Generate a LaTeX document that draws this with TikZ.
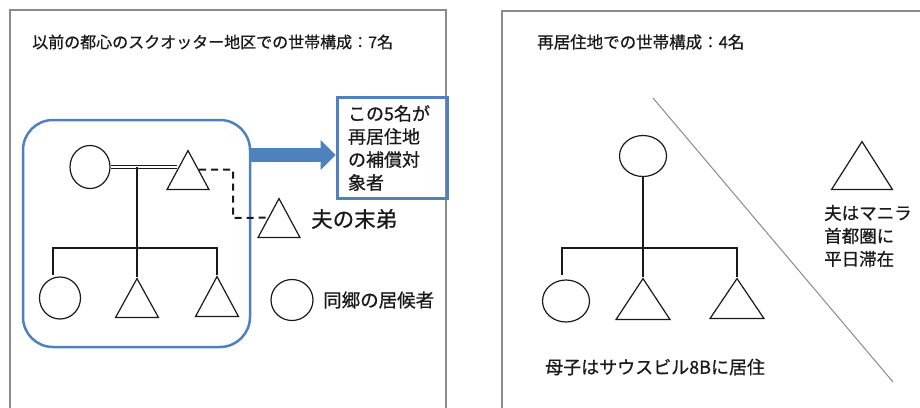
\documentclass[tikz,border=0pt]{standalone}
\usepackage{fontspec}
\setmainfont{Noto Sans CJK JP}[FakeBold=0.7]
\usetikzlibrary{shapes.geometric,arrows.meta,calc}
\definecolor{ablue}{HTML}{4F81BD}
\definecolor{pgray}{HTML}{8A8A8A}
\definecolor{ink}{HTML}{1A1A1A}
\begin{document}
\begin{tikzpicture}[x=1pt,y=-1pt,
  person/.style={ellipse,draw=ink,line width=1.2pt,inner sep=0pt},
  tri/.style={isosceles triangle,isosceles triangle stretches,shape border rotate=90,draw=ink,line width=1.2pt,inner sep=0pt,anchor=apex},
  kin/.style={draw=ink,line width=2.9pt},
  dashlink/.style={draw=ink,line width=2pt,dash pattern=on 7pt off 5pt},
  lbl/.style={inner sep=0pt,anchor=west,text=ink},
  frame/.style={draw=pgray,line width=1.2pt}]
\useasboundingbox (0,0) rectangle (920,407);
\clip (0,0) rectangle (920,407);
\fill[white] (0,0) rectangle (920,407);
% panels
\draw[frame] (10,430) -- (10,10) -- (446,10) -- (446,430);
\draw[frame] (502,430) -- (502,11) -- (940,11);
% titles
\node[lbl,font=\fontsize{16}{16}\selectfont] (title1) at (32,42) {以前の都心のスクオッター地区での世帯構成：7名};
\node[lbl,font=\fontsize{16.5}{16.5}\selectfont] (title2) at (537,42) {再居住地での世帯構成：4名};
% left group box
\node[draw=ablue,line width=2.5pt,rounded corners=30pt,minimum width=227pt,minimum height=227pt] (grp) at (136.5,233.5) {};
% left persons
\node[person,minimum width=40pt,minimum height=43pt] (w1) at (90,167) {};
\node[tri,minimum width=42pt,minimum height=39pt] (h1) at (188,149) {};
\node[person,minimum width=41pt,minimum height=42pt] (c1) at (60,298) {};
\node[tri,minimum width=43pt,minimum height=39pt] (c2) at (137,277) {};
\node[tri,minimum width=43pt,minimum height=40pt] (c3) at (217,275) {};
\node[tri,minimum width=42pt,minimum height=39pt] (u1) at (279,197) {};
\node[person,minimum width=42pt,minimum height=41pt] (g1) at (292,300) {};
% left links
\draw[draw=ink,double,double distance=1.6pt,line width=1.3pt] (w1.east) -- (w1.east -| h1.left side);
\coordinate (m1) at (137,167);
\coordinate (bar1) at (137,248);
\coordinate (l1) at (53,275);
\draw[kin] (m1) -- (c2.apex);
\draw[kin] (l1) -- (l1 |- bar1) -- (c3.apex |- bar1) -- (c3.apex);
\coordinate (d2) at (233,218);
\draw[dashlink] (h1.right side) -| (d2) -- (u1.left side);
% labels left
\node[lbl,font=\fontsize{21.5}{21.5}\selectfont] (lu) at (311,219) {夫の末弟};
\node[lbl,font=\fontsize{18.5}{18.5}\selectfont] (lg) at (323,300) {同郷の居候者};
% text box
\node[draw=ablue,line width=3pt,text width=88pt,inner xsep=11pt,inner ysep=0pt,minimum height=101pt,align=left,text=ink,font=\fontsize{18}{23}\selectfont] (tb) at (392,148) {この5名が\\再居住地\\の補償対\\象者};
\coordinate (ay) at (0,155);
\draw[ablue,line width=14pt,-{Triangle[length=15pt,width=30pt,line width=0pt]}] (grp.east |- ay) -- (tb.west |- ay);
% right panel
\coordinate (s1) at (653,98);
\coordinate (s2) at (893,382);
\draw[draw=pgray,line width=1pt] (s1) -- (s2);
\node[person,minimum width=47pt,minimum height=41pt] (w2) at (643,156) {};
\node[person,minimum width=47pt,minimum height=42pt] (c4) at (566,301) {};
\node[tri,minimum width=54pt,minimum height=41pt] (c5) at (643,277) {};
\node[tri,minimum width=54pt,minimum height=40pt] (c6) at (737,277) {};
\node[tri,minimum width=61pt,minimum height=48pt] (h2) at (862,140) {};
\coordinate (bar2) at (643,248);
\coordinate (l2) at (562,275);
\draw[kin] (w2.south) -- (c5.apex);
\draw[kin] (l2) -- (l2 |- bar2) -- (c6.apex |- bar2) -- (c6.apex);
\node[lbl,align=left,font=\fontsize{17.5}{23}\selectfont] (lh) at (824,236) {夫はマニラ\\首都圏に\\平日滞在};
\node[lbl,font=\fontsize{18}{18}\selectfont] (lm) at (545,367) {母子はサウスビル8Bに居住};
\end{tikzpicture}
\end{document}
